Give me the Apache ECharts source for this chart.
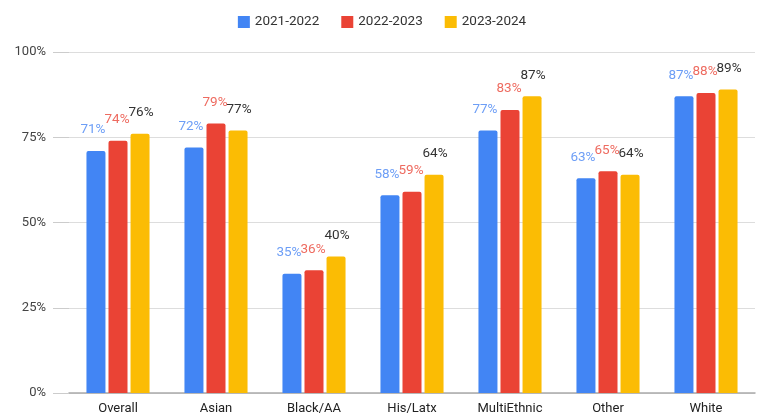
<!DOCTYPE html>
<html><head><meta charset="utf-8">
<script src="https://cdn.jsdelivr.net/npm/echarts@6/dist/echarts.min.js"></script>
<style>html,body{margin:0;padding:0;background:#fff}#c{width:764px;height:420px}</style>
</head><body><div id="c"></div>
<script>
const categories = ['Overall','Asian','Black/AA','His/Latx','MultiEthnic','Other','White'];
const seriesNames = ['2021-2022','2022-2023','2023-2024'];
const v2122 = [71,72,35,58,77,63,87];
const v2223 = [74,79,36,59,83,65,88];
const v2324 = [76,77,40,64,87,64,89];
const yTicks = [0,25,50,75,100];

const colors = ['#4285F4','#EA4335','#FBBC04'];
const labelColors = ['#6D9EF6','#EE6B60','#333333'];
const offsets = [[-3,0],[-1,0],[1,0]];
const data = [v2122, v2223, v2324];

const chart = echarts.init(document.getElementById('c'));
chart.setOption({
  animation:false,
  textStyle:{fontFamily:'Roboto, Arial, sans-serif'},
  legend:{
    top:10, left:'center', itemWidth:12, itemHeight:12, itemGap:22,
    icon:'rect',
    textStyle:{fontSize:13.5,color:'#333'},
    data:seriesNames
  },
  grid:{left:69,right:9,top:52,bottom:27,containLabel:false},
  xAxis:{
    type:'category', data:categories,
    axisLine:{lineStyle:{color:'#aaaaaa',width:1.5}},
    axisTick:{show:false},
    axisLabel:{color:'#222',fontSize:13,margin:9}
  },
  yAxis:{
    type:'value', min:0, max:100, interval:25,
    axisLine:{show:false},
    axisTick:{show:true,length:16,lineStyle:{color:'#cccccc'}},
    splitLine:{lineStyle:{color:'#dddddd',width:1}},
    axisLabel:{color:'#444',fontSize:13,margin:23,formatter:function(v){return yTicks.indexOf(v)>=0? v+'%':'';}}
  },
  series: seriesNames.map((n,i)=>({
    name:n, type:'bar', data:data[i], barWidth:19, barGap:'16%',
    itemStyle:{color:colors[i], borderRadius:[2,2,0,0]},
    label:{show:true, position:'top', distance:14, offset:offsets[i],
      color:labelColors[i], fontSize:13.5, formatter:'{c}%'}
  }))
});
</script></body></html>
